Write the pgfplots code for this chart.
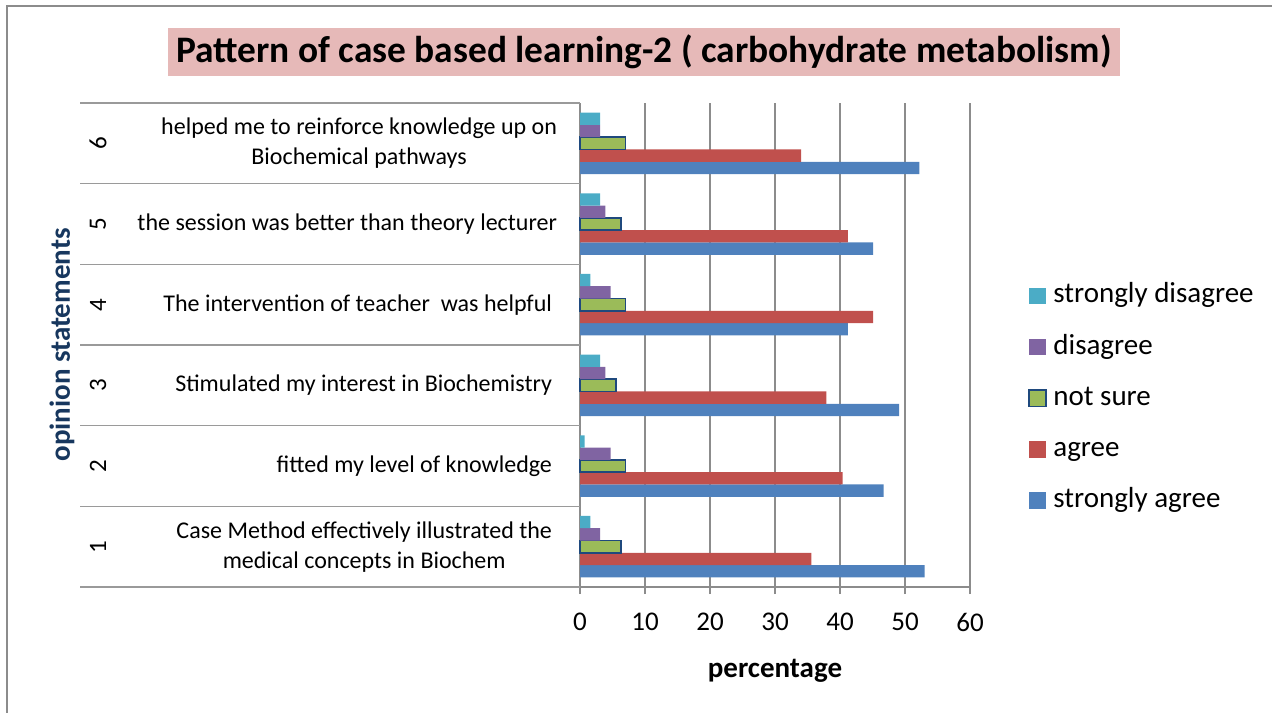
\documentclass[border=0pt]{standalone}
\usepackage{pgfplots}
\pgfplotsset{compat=1.18}
\usepackage{pgfplotstable}
\usepackage{fontspec}
\setmainfont{Carlito}
\definecolor{cSA}{HTML}{4F81BD}
\definecolor{cAG}{HTML}{C0504D}
\definecolor{cNS}{HTML}{9BBB59}
\definecolor{cNSb}{HTML}{1F497D}
\definecolor{cDI}{HTML}{8064A2}
\definecolor{cSD}{HTML}{4BACC6}
\definecolor{titlebg}{HTML}{E6B9B8}
\definecolor{gridc}{HTML}{8C8C8C}
\definecolor{sepc}{HTML}{9A9A9A}
\definecolor{ylabc}{HTML}{17375E}

\pgfplotstableread{
cat sa ag ns di sd
1 53.0 35.6 6.3 3.1 1.6
2 46.7 40.4 7.0 4.7 0.7
3 49.1 37.9 5.5 3.9 3.1
4 41.2 45.1 7.0 4.7 1.6
5 45.1 41.2 6.3 3.9 3.1
6 52.2 34.0 7.0 3.1 3.1
}\data

\begin{document}
\begin{tikzpicture}[x=1pt,y=1pt]
\useasboundingbox (0,0) rectangle (636,356);
\draw[color=gridc, line width=0.8pt] (3.5,-5) -- (3.5,353) -- (640,353);
\node[fill=titlebg, minimum width=476pt, minimum height=24pt, inner sep=0pt,
      font=\bfseries\fontsize{18.7}{21}\selectfont] at (322,330)
      {Pattern of case based learning-2 ( carbohydrate metabolism)};
\begin{axis}[
  at={(290pt,62.5pt)}, anchor=south west, scale only axis,
  width=195pt, height=242pt,
  xbar=0pt, bar width=6.15pt,
  xmin=0, xmax=60, ymin=0.5, ymax=6.5,
  xtick={0,10,...,60}, ytick=\empty,
  axis x line*=bottom, axis y line*=left,
  axis line style={draw=gridc, line width=0.8pt, -},
  xmajorgrids, grid style={draw=gridc, line width=0.8pt},
  tick align=outside, major tick length=3.5pt,
  tick style={draw=gridc, line width=0.8pt},
  xticklabel style={font=\fontsize{13.5}{16}\selectfont, yshift=-6pt},
  /pgf/number format/assume math mode=true,
  clip=false,
  reverse legend,
  legend cell align=left,
  legend style={draw=none, fill=none, at={(1.1487,0.39)}, anchor=west,
    inner sep=0pt, row sep=6pt,
    nodes={font=\fontsize{14.5}{17}\selectfont, text height=10pt, text depth=3pt, inner sep=3.3pt}},
  legend image code/.code={\path[#1] (0pt,-4.15pt) rectangle (8.3pt,4.15pt);},
]
\addplot[fill=cSA, draw=none] table[x=sa,y=cat]{\data};
\addplot[fill=cAG, draw=none] table[x=ag,y=cat]{\data};
\addplot[fill=cNS, draw=cNSb, line width=0.9pt] table[x=ns,y=cat]{\data};
\addplot[fill=cDI, draw=none] table[x=di,y=cat]{\data};
\addplot[fill=cSD, draw=none] table[x=sd,y=cat]{\data};
\legend{strongly agree, agree, not sure, disagree, strongly disagree}

\pgfplotsinvokeforeach{0.5,1.5,2.5,3.5,4.5,5.5,6.5}{
  \draw[sepc, line width=0.8pt] (axis cs:0,#1) -- ([xshift=-250pt]axis cs:0,#1);
}
\pgfplotsinvokeforeach{1,2,3,4,5,6}{
  \node[rotate=90, font=\fontsize{12.5}{14}\selectfont] at ([xshift=-241pt]axis cs:0,#1) {#1};
}

\node[anchor=east, align=center, font=\fontsize{12}{15}\selectfont] at ([xshift=-10.5pt]axis cs:0,1)
  {Case Method effectively illustrated the\\medical concepts in Biochem};
\node[anchor=east, font=\fontsize{12}{15}\selectfont] at ([xshift=-10.5pt]axis cs:0,2)
  {fitted my level of knowledge};
\node[anchor=east, font=\fontsize{12}{15}\selectfont] at ([xshift=-10.5pt]axis cs:0,3)
  {Stimulated my interest in Biochemistry};
\node[anchor=east, font=\fontsize{12}{15}\selectfont] at ([xshift=-10.5pt]axis cs:0,4)
  {The intervention of teacher\ \ was helpful};
\node[anchor=east, font=\fontsize{12}{15}\selectfont] at ([xshift=-8pt]axis cs:0,5)
  {the session was better than theory lecturer};
\node[anchor=east, align=center, font=\fontsize{12}{15}\selectfont] at ([xshift=-8pt]axis cs:0,6)
  {helped me to reinforce knowledge up on\\Biochemical pathways};

\node[rotate=90, text=ylabc, font=\bfseries\fontsize{14.5}{17}\selectfont] at ([xshift=-259pt]rel axis cs:0,0.5) {opinion statements};
\node[font=\bfseries\fontsize{14.5}{17}\selectfont] at ([yshift=-42pt]rel axis cs:0.5,0) {percentage};
\end{axis}
\end{tikzpicture}
\end{document}
